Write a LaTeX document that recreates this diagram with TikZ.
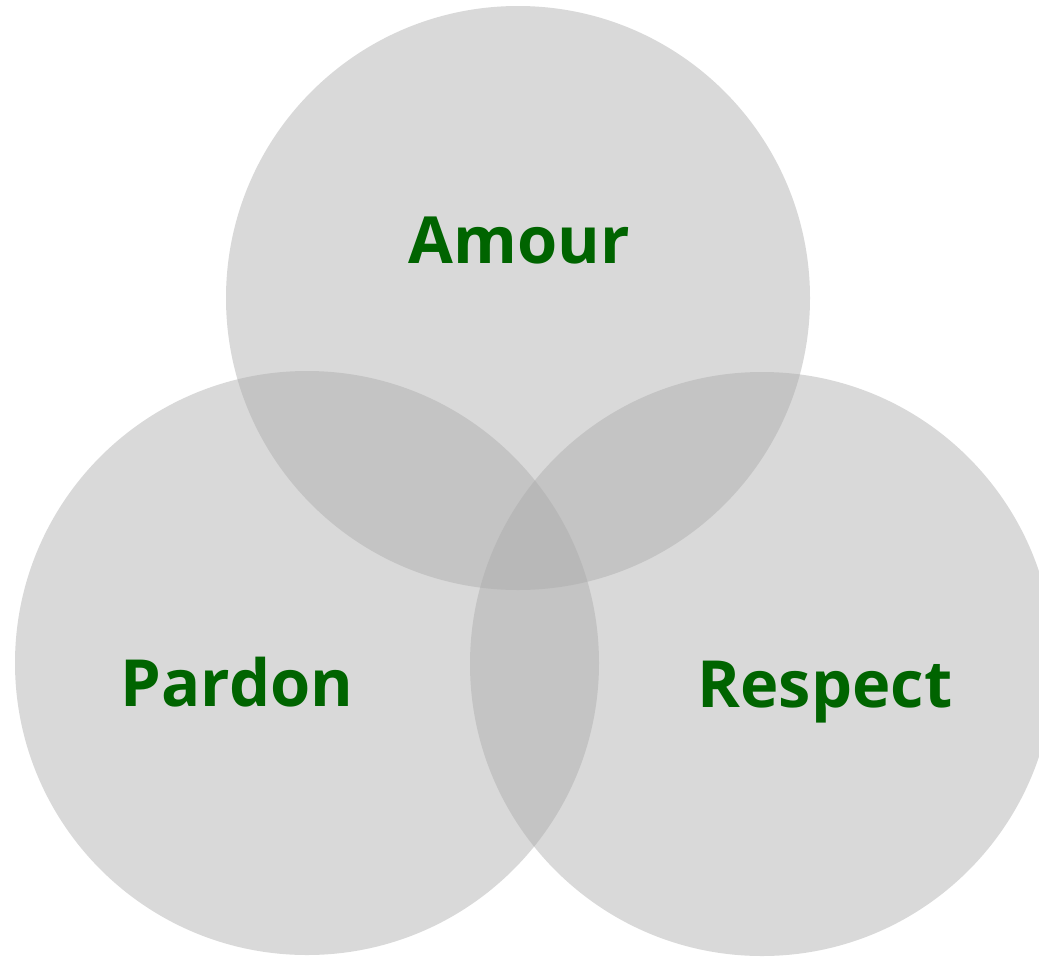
\documentclass[tikz,border=0pt]{standalone}
\usepackage{fontspec}
\setmainfont{Open Sans}
\usepackage{xcolor}
\usepackage{tikz}
\usetikzlibrary{positioning}
\definecolor{vennfill}{RGB}{170,170,170}
\definecolor{vennlabel}{RGB}{0,100,0}

\begin{document}
\begin{tikzpicture}[
    x=1pt, y=-1pt,
    setcircle/.style={circle, fill=vennfill, fill opacity=0.45, draw=none, minimum size=584pt, inner sep=0pt},
    setlabel/.style={anchor=base, text=vennlabel, font=\fontsize{65}{78}\selectfont\bfseries, inner sep=0pt}
]
\useasboundingbox (0,0) rectangle (1039,956);
\node[setcircle] (amour) at (518,298) {};
\node[setcircle] (pardon) at (307,663) {};
\node[setcircle] (respect) at (762,664) {};
\node[setlabel] (amourlbl) at (519,263) {Amour};
\node[setlabel] (pardonlbl) at (237,706) {Pardon};
\node[setlabel] (respectlbl) at (825,707) {Respect};
\end{tikzpicture}
\end{document}
